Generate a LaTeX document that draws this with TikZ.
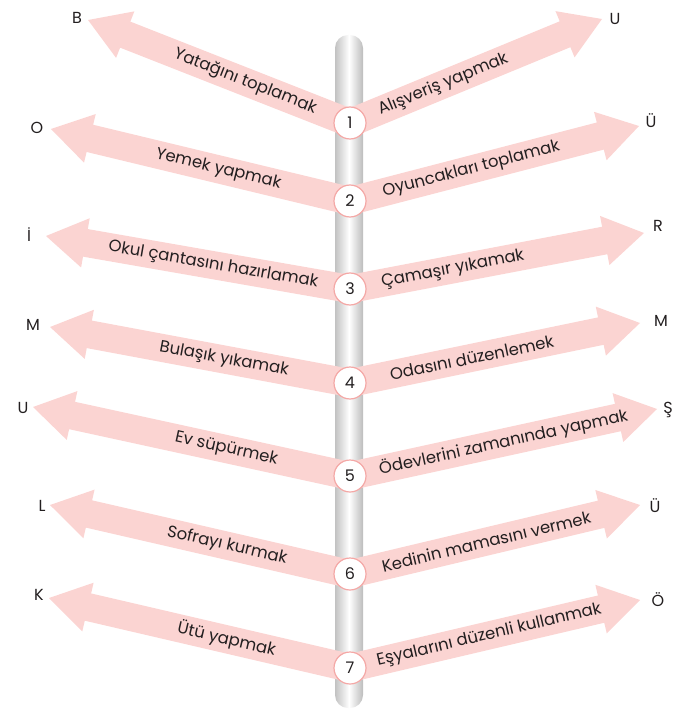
\documentclass[tikz,border=0pt]{standalone}
\usepackage{fontspec}
\setmainfont{Poppins}
\usetikzlibrary{calc, backgrounds}
\definecolor{bandpink}{RGB}{251,212,210}
\definecolor{ringpink}{RGB}{244,168,166}
\definecolor{ink}{RGB}{35,31,32}
\tikzstyle{num} = [circle, draw=ringpink, fill=white, line width=1.2pt, minimum size=32pt, inner sep=0pt, font=\fontsize{16}{16}\selectfont, text=ink]
\tikzstyle{task} = [sloped, inner sep=0pt, font=\fontsize{16.5}{16.5}\selectfont, text=ink]
\tikzstyle{letter} = [inner sep=0pt, font=\fontsize{16}{16}\selectfont, text=ink]
\tikzstyle{bandfill} = [fill=bandpink]
% wide arrow from #1 to the tip #2
\newcommand{\band}[2]{%
  \coordinate (h) at ($(#2)!40pt!(#1)$);
  \fill[bandfill] ($(#1)!14pt!90:(#2)$) -- ($(h)!14pt!-90:(#1)$) -- ($(h)!25pt!-90:(#1)$) -- (#2)
    -- ($(h)!25pt!90:(#1)$) -- ($(h)!14pt!90:(#1)$) -- ($(#1)!14pt!-90:(#2)$) -- cycle;
}
\begin{document}
\begin{tikzpicture}[x=1pt, y=-1pt]
  \useasboundingbox (0,0) rectangle (698,714);

  % Numbers on the pole
  \node[num] (n1) at (350,123) {1};
  \node[num] (n2) at (350,201) {2};
  \node[num] (n3) at (350,289) {3};
  \node[num] (n4) at (350,383) {4};
  \node[num] (n5) at (350,476) {5};
  \node[num] (n6) at (350,574) {6};
  \node[num] (n7) at (350,668) {7};

  % Arrow tips
  \coordinate (l1) at (88,20);  \coordinate (r1) at (602,19);
  \coordinate (l2) at (51,129); \coordinate (r2) at (639,126);
  \coordinate (l3) at (46,236); \coordinate (r3) at (644,233);
  \coordinate (l4) at (50,327); \coordinate (r4) at (640,323);
  \coordinate (l5) at (33,407); \coordinate (r5) at (657,409);
  \coordinate (l6) at (50,505); \coordinate (r6) at (640,505);
  \coordinate (l7) at (49,598); \coordinate (r7) at (640,600);

  % Letters
  \node[letter] (a1) at (77,18) {B};   \node[letter] (b1) at (615,19) {U};
  \node[letter] (a2) at (37,128) {O};  \node[letter] (b2) at (651,121) {Ü};
  \node[letter] (a3) at (29,235) {İ};  \node[letter] (b3) at (658,226) {R};
  \node[letter] (a4) at (33,325) {M};  \node[letter] (b4) at (661,321) {M};
  \node[letter] (a5) at (23,408) {U};  \node[letter] (b5) at (668,410) {Ş};
  \node[letter] (a6) at (42,506) {L};  \node[letter] (b6) at (655,506) {Ü};
  \node[letter] (a7) at (39,595) {K};  \node[letter] (b7) at (658,600) {Ö};

  % Pole and arrows
  \begin{scope}[on background layer]
    \shade[left color=black!24, right color=black!26, middle color=white, rounded corners=13pt] (335,35) rectangle (363,708);
    \band{n1.center}{l1} \band{n1.center}{r1}
    \band{n2.center}{l2} \band{n2.center}{r2}
    \band{n3.center}{l3} \band{n3.center}{r3}
    \band{n4.center}{l4} \band{n4.center}{r4}
    \band{n5.center}{l5} \band{n5.center}{r5}
    \band{n6.center}{l6} \band{n6.center}{r6}
    \band{n7.center}{l7} \band{n7.center}{r7}
  \end{scope}

  % Tasks
  \path (l1) -- (n1.center) node[task, pos=0.6] (t1l) {Yatağını toplamak};
  \path (n1.center) -- (r1) node[task, pos=0.37] (t1r) {Alışveriş yapmak};
  \path (l2) -- (n2.center) node[task, pos=0.56] (t2l) {Yemek yapmak};
  \path (n2.center) -- (r2) node[task, pos=0.42] (t2r) {Oyuncakları toplamak};
  \path (l3) -- (n3.center) node[task, pos=0.55] (t3l) {Okul çantasını hazırlamak};
  \path (n3.center) -- (r3) node[task, pos=0.35] (t3r) {Çamaşır yıkamak};
  \path (l4) -- (n4.center) node[task, pos=0.58] (t4l) {Bulaşık yıkamak};
  \path (n4.center) -- (r4) node[task, pos=0.42] (t4r) {Odasını düzenlemek};
  \path (l5) -- (n5.center) node[task, pos=0.61] (t5l) {Ev süpürmek};
  \path (n5.center) -- (r5) node[task, pos=0.5] (t5r) {Ödevlerini zamanında yapmak};
  \path (l6) -- (n6.center) node[task, pos=0.59] (t6l) {Sofrayı kurmak};
  \path (n6.center) -- (r6) node[task, pos=0.47] (t6r) {Kedinin mamasını vermek};
  \path (l7) -- (n7.center) node[task, pos=0.59] (t7l) {Ütü yapmak};
  \path (n7.center) -- (r7) node[task, pos=0.48] (t7r) {Eşyalarını düzenli kullanmak};
\end{tikzpicture}
\end{document}
